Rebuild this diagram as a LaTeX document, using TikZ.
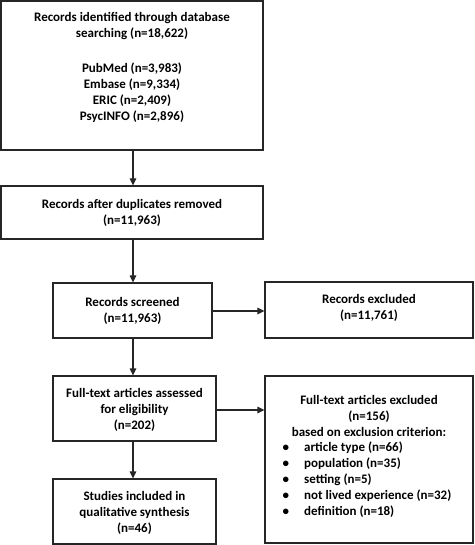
\documentclass[tikz,border=0pt]{standalone}
\usepackage{fontspec}
\setmainfont{Carlito}
\usetikzlibrary{arrows.meta}
\begin{document}
\begin{tikzpicture}[x=1pt,y=-1pt,
  box/.style={draw=black!85, line width=1.2pt, inner sep=0pt, anchor=center},
  txt/.style={align=center, inner sep=0pt, font=\fontsize{13}{16}\selectfont\bfseries},
  arr/.style={draw=black!85, line width=1.2pt, -{Triangle[length=7pt,width=6.5pt]}}]
\useasboundingbox (0,0) rectangle (474,545);
\coordinate (col) at (133,0);
% boxes
\node[box, minimum width=262pt, minimum height=149pt] (b1) at (132,75.5) {};
\node[box, minimum width=262pt, minimum height=53pt] (b2) at (132,212.5) {};
\node[box, minimum width=159pt, minimum height=55pt] (b3) at (132.5,310.5) {};
\node[box, minimum width=208pt, minimum height=56pt] (bx) at (369,310) {};
\node[box, minimum width=163pt, minimum height=65pt] (b4) at (134.5,408.5) {};
\node[box, minimum width=163pt, minimum height=65pt] (b5) at (134.5,511.5) {};
\node[box, minimum width=208pt, minimum height=167pt] (b6) at (369,459.5) {};
% texts
\node[txt] (t1a) at (132,26.5) {Records identified through database\\searching (n=18,622)};
\node[txt] (t1b) at (132,92.5) {PubMed (n=3,983)\\Embase (n=9,334)\\ERIC (n=2,409)\\PsycINFO (n=2,896)};
\node[txt] (t2) at (132,213) {Records after duplicates removed\\(n=11,963)};
\node[txt] (t3) at (132.5,310.5) {Records screened\\(n=11,963)};
\node[txt] (tx) at (369,308) {Records excluded\\(n=11,761)};
\node[txt] (t4) at (134.5,410) {Full-text articles assessed\\for eligibility\\(n=202)};
\node[txt] (t5) at (134.5,513) {Studies included in\\qualitative synthesis\\(n=46)};
\node[txt] (t6) at (369,416) {Full-text articles excluded\\(n=156)\\based on exclusion criterion:};
\node[txt, align=left, anchor=west] (t6l) at (282.5,480) {%
  \begin{tabular}{@{}p{21.5pt}@{}l@{}}
  \textbullet & article type (n=66)\\
  \textbullet & population (n=35)\\
  \textbullet & setting (n=5)\\
  \textbullet & not lived experience (n=32)\\
  \textbullet & definition (n=18)
  \end{tabular}};
% connectors
\draw[arr] (b1.south -| col) -- (b2.north -| col);
\draw[arr] (b2.south -| col) -- (b3.north -| col);
\draw[arr] (b3.south -| col) -- (b4.north -| col);
\draw[arr] (b4.south -| col) -- (b5.north -| col);
\draw[arr] (b3.east |- 0,311) -- (bx.west |- 0,311);
\draw[arr] (b4.east |- 0,410) -- (b6.west |- 0,410);
\end{tikzpicture}
\end{document}
